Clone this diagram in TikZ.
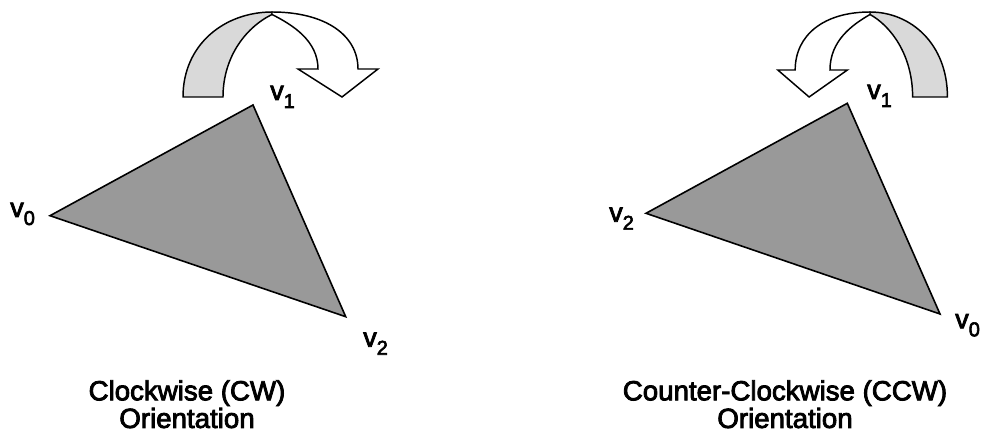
\documentclass[tikz,border=0pt]{standalone}
\usepackage{fontspec}
\setmainfont{Liberation Sans}[FakeBold=3]
\usepackage{tikz}
\usetikzlibrary{calc}

\definecolor{facegray}{RGB}{153,153,153}
\definecolor{bandgray}{RGB}{217,217,217}

\newcommand{\vsub}[1]{v\raisebox{-6pt}{\fontsize{15}{15}\selectfont #1}}

\tikzset
{
  face/.style={draw=black,fill=facegray,line width=1.2pt,line join=miter},
  bandback/.style={draw=black,fill=bandgray,line width=1.1pt},
  bandfront/.style={draw=black,fill=white,line width=1.1pt,line join=miter},
  vlabel/.style={anchor=base west,inner sep=0pt,font=\fontsize{20.25}{24}\selectfont},
  caption/.style={anchor=north,align=center,inner sep=0pt,font=\fontsize{20.75}{20.7}\selectfont}
}

\begin{document}
\begin{tikzpicture}[x=0.75pt,y=-0.75pt]

    \useasboundingbox (0,0) rectangle (982,434);

    % Clockwise triangle
    \coordinate (cw0) at (50,215.7);
    \coordinate (cw1) at (253,105);
    \coordinate (cw2) at (345.7,316.7);
    \draw[face] (cw0) -- (cw1) -- (cw2) -- cycle;

    \node[vlabel] (cw0lab) at (10,217) {\vsub{0}};
    \node[vlabel] (cw1lab) at (270,100) {\vsub{1}};
    \node[vlabel] (cw2lab) at (363,346.7) {\vsub{2}};

    % Clockwise turn arrow (back of the band, then the front with its head)
    \begin{scope}[shift={(272,0)}]
        \draw[bandback] (-89,97) .. controls (-89,44) and (-47,12) .. (0,12)
            -- (0,14.5) .. controls (-24,26) and (-49,55) .. (-49,97) -- cycle;
        \draw[bandfront] (0,12) .. controls (53,12) and (86,35) .. (86,69)
            -- (106,69) -- (70,97) -- (26,69) -- (46,69)
            .. controls (46,41) and (21,25) .. (0,14.5) -- cycle;
    \end{scope}

    \node[caption] (cwtitle) at (187,380) {Clockwise (CW)\\Orientation};

    % Counter-clockwise triangle
    \coordinate (ccw2) at (646,213.3);
    \coordinate (ccw1) at (847.3,103.3);
    \coordinate (ccw0) at (940,314);
    \draw[face] (ccw2) -- (ccw1) -- (ccw0) -- cycle;

    \node[vlabel] (ccw2lab) at (609,221.7) {\vsub{2}};
    \node[vlabel] (ccw1lab) at (867,99) {\vsub{1}};
    \node[vlabel] (ccw0lab) at (955,328.3) {\vsub{0}};

    % Counter-clockwise turn arrow: same band, mirrored and a bit narrower
    \begin{scope}[shift={(870,0)},xscale=-0.87]
        \draw[bandback] (-89,97) .. controls (-89,44) and (-47,12) .. (0,12)
            -- (0,14.5) .. controls (-24,26) and (-49,55) .. (-49,97) -- cycle;
        \draw[bandfront] (0,12) .. controls (53,12) and (86,35) .. (86,70)
            -- (106,70) -- (70,97) -- (26,70) -- (46,70)
            .. controls (46,41) and (21,25) .. (0,14.5) -- cycle;
    \end{scope}

    \node[caption] (ccwtitle) at (785,380) {Counter-Clockwise (CCW)\\Orientation};

\end{tikzpicture}
\end{document}
